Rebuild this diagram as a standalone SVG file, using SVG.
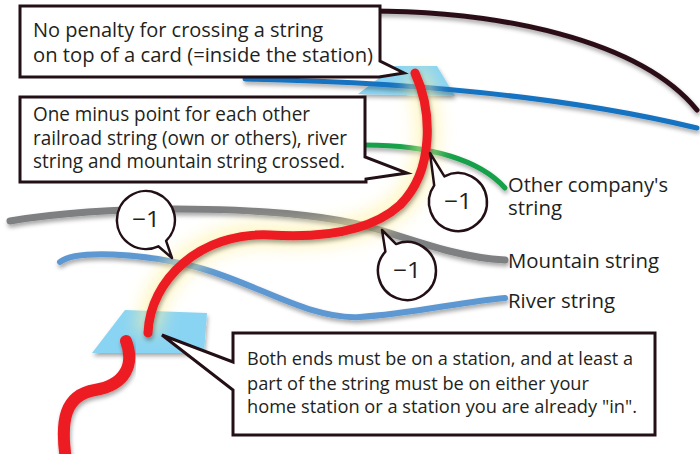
<svg xmlns="http://www.w3.org/2000/svg" width="700" height="454" viewBox="0 0 700 454">
  <style>
    .txt { font-family: "Open Sans", "Noto Sans", "Liberation Sans", sans-serif; fill: #231f20; }
    .box { fill: #ffffff; stroke: #231016; stroke-width: 3; stroke-linejoin: miter; }
    .bub { fill: #ffffff; stroke: #231016; stroke-width: 2.5; stroke-linejoin: round; }
    .str { fill: none; stroke-linecap: round; }
    .card { fill: #8ad4f3; }
  </style>
  <defs>
    <filter id="shadow" x="-10%" y="-40%" width="120%" height="200%">
      <feDropShadow dx="1" dy="3" stdDeviation="2" flood-color="#000000" flood-opacity="0.35"/>
    </filter>
    <filter id="glow" x="-50%" y="-50%" width="200%" height="200%">
      <feGaussianBlur stdDeviation="8"/>
    </filter>
  </defs>

  <rect width="700" height="454" fill="#ffffff"/>

  <!-- strings on the board -->
  <g id="strings">
    <path class="str" d="M 360 11 C 500 10, 640 40, 697 110" stroke="#2a0c14" stroke-width="5" filter="url(#shadow)"/>
    <path class="str" d="M 10 221 C 120 203, 300 205, 380 230 C 430 246, 465 258, 505 260" stroke="#7f8082" stroke-width="7" stroke-linecap="butt" filter="url(#shadow)"/>
    <path class="str" d="M 60 262 C 75 250, 140 252, 200 268 C 260 285, 310 320, 360 317 C 410 314, 460 302, 505 298" stroke="#5d98d2" stroke-width="6" filter="url(#shadow)"/>
    <path class="str" d="M 365 145 C 430 145, 480 160, 505 188" stroke="#16a04a" stroke-width="5" stroke-linecap="butt" filter="url(#shadow)"/>
  </g>

  <!-- station cards -->
  <g id="cards">
    <polygon class="card" points="395,66 437,66 455,96 358,94" filter="url(#shadow)"/>
    <polygon class="card" points="125,310 207,313 204,353 92,353" filter="url(#shadow)"/>
  </g>

  <path class="str" d="M 245 79 C 400 82, 560 95, 697 128" stroke="#1673c2" stroke-width="5" stroke-linecap="butt" filter="url(#shadow)"/>

  <!-- player's railroad string -->
  <g id="red-string">
    <path d="M 415 73 C 432 110, 435 170, 400 205 C 370 232, 320 238, 270 235 C 200 232, 150 280, 148 333" fill="none" stroke="#fff2a0" stroke-width="26" opacity="0.55" filter="url(#glow)"/>
    <path class="str" d="M 415 73 C 432 110, 435 170, 400 205 C 370 232, 320 238, 270 235 C 200 232, 150 280, 148 333" stroke="#ec1c24" stroke-width="9" filter="url(#shadow)"/>
    <path class="str" d="M 126 341 C 135 365, 125 385, 95 390 C 65 395, 60 420, 66 460" stroke="#ec1c24" stroke-width="12" filter="url(#shadow)"/>
  </g>

  <!-- callout boxes -->
  <g id="note-station">
    <path class="box" d="M 20 6 H 380 V 61 L 404 73 L 379 77 H 20 Z"/>
    <text class="txt" font-size="19.5" x="33" y="37" textLength="290" lengthAdjust="spacingAndGlyphs">No penalty for crossing a string</text>
    <text class="txt" font-size="19.5" x="33" y="62" textLength="340" lengthAdjust="spacingAndGlyphs">on top of a card (=inside the station)</text>
  </g>

  <g id="note-crossing">
    <path class="box" d="M 20 97 H 365 V 157 L 407 173 L 366 179 V 182 H 20 Z"/>
    <text class="txt" font-size="19.5" x="33" y="121" textLength="277" lengthAdjust="spacingAndGlyphs">One minus point for each other</text>
    <text class="txt" font-size="19.5" x="33" y="145" textLength="314" lengthAdjust="spacingAndGlyphs">railroad string (own or others), river</text>
    <text class="txt" font-size="19.5" x="33" y="168" textLength="312" lengthAdjust="spacingAndGlyphs">string and mountain string crossed.</text>
  </g>

  <g id="note-ends">
    <path class="box" d="M 233 333 H 655 V 435 H 233 V 390 L 162 335 L 233 362 Z"/>
    <text class="txt" font-size="18.5" x="247" y="365" textLength="386" lengthAdjust="spacingAndGlyphs">Both ends must be on a station, and at least a</text>
    <text class="txt" font-size="18.5" x="247" y="390" textLength="342" lengthAdjust="spacingAndGlyphs">part of the string must be on either your</text>
    <text class="txt" font-size="18.5" x="247" y="413" textLength="390" lengthAdjust="spacingAndGlyphs">home station or a station you are already "in".</text>
  </g>

  <!-- penalty bubbles -->
  <g id="penalty-river">
    <path class="bub" d="M 166.1 240.9 A 29 29 0 1 0 158.3 246.3 L 172 258 Z"/>
    <text class="txt" font-size="22" x="132" y="227" textLength="28" lengthAdjust="spacingAndGlyphs">−1</text>
  </g>
  <g id="penalty-company">
    <path class="bub" d="M 444.4 176.4 A 29 29 0 1 1 434.2 185.4 L 430 153 Z"/>
    <text class="txt" font-size="22" x="444" y="209" textLength="28" lengthAdjust="spacingAndGlyphs">−1</text>
  </g>
  <g id="penalty-mountain">
    <path class="bub" d="M 396.1 244.1 A 29 29 0 1 1 385.4 251.6 L 382 230 Z"/>
    <text class="txt" font-size="22" x="393" y="278" textLength="28" lengthAdjust="spacingAndGlyphs">−1</text>
  </g>

  <!-- string labels -->
  <g id="label-company">
    <text class="txt" font-size="20" x="508" y="192" textLength="160" lengthAdjust="spacingAndGlyphs">Other company's</text>
    <text class="txt" font-size="20" x="508" y="215" textLength="54" lengthAdjust="spacingAndGlyphs">string</text>
  </g>
  <g id="label-mountain">
    <text class="txt" font-size="20" x="508" y="268" textLength="151" lengthAdjust="spacingAndGlyphs">Mountain string</text>
  </g>
  <g id="label-river">
    <text class="txt" font-size="20" x="508" y="308" textLength="107" lengthAdjust="spacingAndGlyphs">River string</text>
  </g>
</svg>
